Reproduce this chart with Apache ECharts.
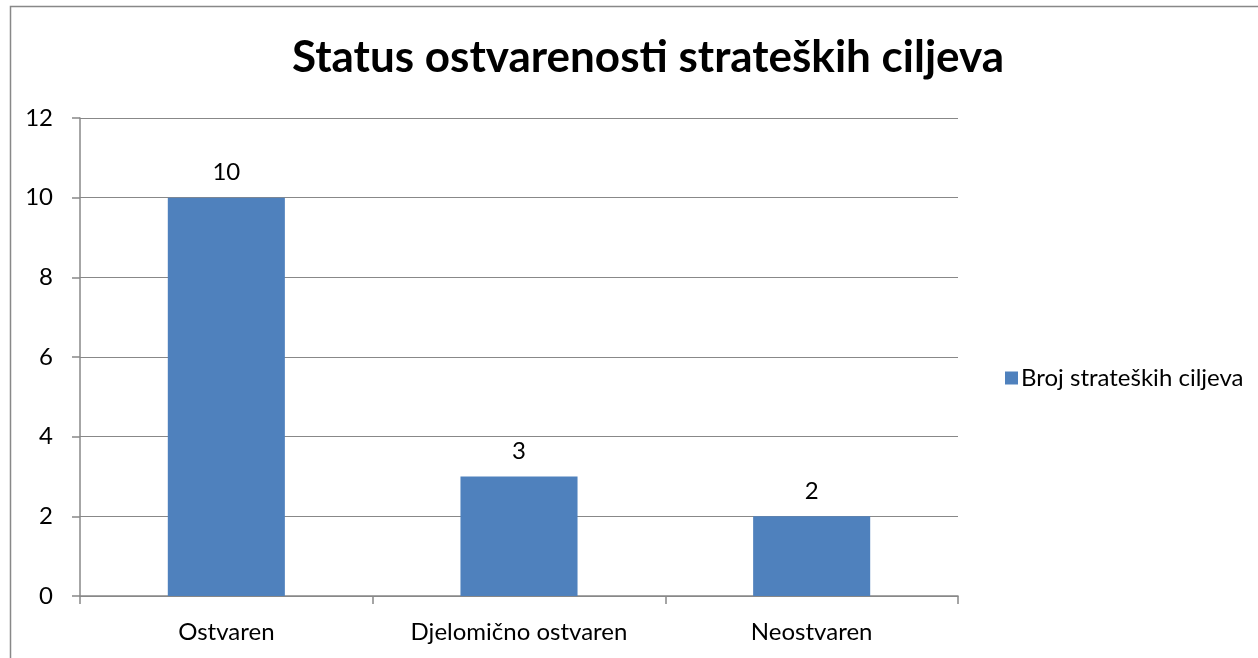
<!DOCTYPE html>
<html>
<head>
<meta charset="utf-8">
<script src="https://cdn.jsdelivr.net/npm/echarts@6/dist/echarts.min.js"></script>
<style>
html,body{margin:0;padding:0;background:#fff;}
#chart{width:1258px;height:658px;}
</style>
</head>
<body>
<div id="chart"></div>
<script>
const title = 'Status ostvarenosti strateških ciljeva';
const categories = ['Ostvaren', 'Djelomično ostvaren', 'Neostvaren'];
const seriesName = 'Broj strateških ciljeva';
const values = [10, 3, 2];
const yTicks = [0, 2, 4, 6, 8, 10, 12];

const FONT = 'Lato, "Open Sans", sans-serif';
const FS = 24;
const chart = echarts.init(document.getElementById('chart'), null, {renderer: 'canvas'});
chart.setOption({
  animation: false,
  backgroundColor: '#fff',
  textStyle: {fontFamily: FONT},
  title: {
    text: title,
    left: 643, top: 31, textAlign: 'center',
    textStyle: {fontFamily: FONT, fontSize: 44, fontWeight: 'bold', color: '#000'}
  },
  graphic: [{
    type: 'rect', silent: true, z: 100,
    shape: {x: 10.5, y: 6.5, width: 1400, height: 800},
    style: {fill: 'none', stroke: '#888', lineWidth: 1.5}
  }],
  legend: {
    orient: 'vertical', left: 1000, top: 361,
    itemWidth: 13, itemHeight: 13, itemGap: 6,
    icon: 'rect',
    textStyle: {fontFamily: FONT, fontSize: FS, color: '#000', padding: [0,0,0,-2]},
    data: [seriesName]
  },
  grid: {left: 80, right: 300, top: 118, bottom: 62, containLabel: false},
  xAxis: {
    type: 'category', data: categories,
    axisLine: {lineStyle: {color: '#888', width: 1.5}},
    axisTick: {show: true, length: 8, lineStyle: {color: '#888', width: 1.5}},
    axisLabel: {fontFamily: FONT, fontSize: FS, color: '#000', margin: 24}
  },
  yAxis: {
    type: 'value', min: yTicks[0], max: yTicks[yTicks.length - 1], interval: 2,
    axisLine: {show: true, lineStyle: {color: '#888', width: 1.5}},
    axisTick: {show: true, length: 8, lineStyle: {color: '#888', width: 1.5}},
    splitLine: {show: true, lineStyle: {color: '#888', width: 1}},
    axisLabel: {fontFamily: FONT, fontSize: FS, color: '#000', margin: 27}
  },
  series: [{
    name: seriesName, type: 'bar', data: values, barWidth: '40%',
    itemStyle: {color: '#4F81BD'},
    label: {show: true, position: 'top', distance: 13, fontFamily: FONT, fontSize: FS, color: '#000'}
  }]
});
</script>
</body>
</html>
